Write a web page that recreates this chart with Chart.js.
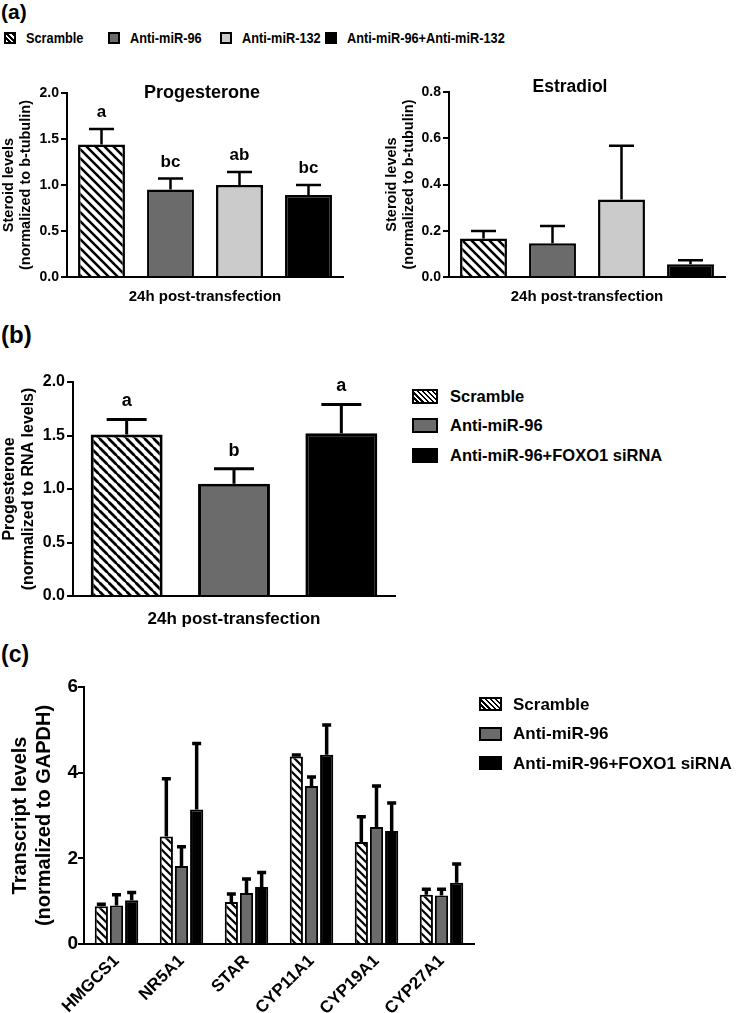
<!DOCTYPE html>
<html>
<head>
<meta charset="utf-8">
<script src="https://cdn.jsdelivr.net/npm/chart.js@4.4.0/dist/chart.umd.min.js"></script>
<style>
  html, body { margin: 0; padding: 0; background: #fff; }
  body { width: 742px; height: 1013px; position: relative; overflow: hidden;
         font-family: 'Liberation Sans', Arial, sans-serif; font-weight: bold; color: #000; }
  .box { position: absolute; }
  .panel-label { position: absolute; font-weight: bold; line-height: 1; }
  .legend { position: absolute; }
  .legend-item { position: absolute; display: flex; align-items: center; white-space: nowrap; line-height: 1; }
  .swatch { box-sizing: border-box; border: 2px solid #000; display: inline-block; flex: none; }
  .legend-text { display: inline-block; transform-origin: left center; }
</style>
</head>
<body>

<div class="panel-label" style="left:1px; top:1px; font-size:21px;">(a)</div>
<div id="legendA" class="legend" style="left:0; top:29px; width:742px; height:18px;"></div>
<div class="box" style="left:0; top:60px; width:360px; height:246px;"><canvas id="chartProgA"></canvas></div>
<div class="box" style="left:372px; top:60px; width:370px; height:246px;"><canvas id="chartEstA"></canvas></div>

<div class="panel-label" style="left:1px; top:323px; font-size:24px;">(b)</div>
<div class="box" style="left:0; top:330px; width:410px; height:300px;"><canvas id="chartProgB"></canvas></div>
<div id="legendB" class="legend" style="left:412px; top:386px; width:320px; height:90px;"></div>

<div class="panel-label" style="left:1px; top:643px; font-size:23px;">(c)</div>
<div class="box" style="left:0; top:640px; width:480px; height:373px;"><canvas id="chartGenes"></canvas></div>
<div id="legendC" class="legend" style="left:479px; top:694px; width:260px; height:90px;"></div>

<script>
// ---- (a) steroid levels, 24h post-transfection ----
const groupsA = ['Scramble', 'Anti-miR-96', 'Anti-miR-132', 'Anti-miR-96+Anti-miR-132'];
const progesteroneA = [1.44, 0.95, 1.00, 0.89];
const progesteroneAErr = [0.17, 0.12, 0.14, 0.11];
const progesteroneALetters = ['a', 'bc', 'ab', 'bc'];
const estradiolA = [0.166, 0.146, 0.335, 0.055];
const estradiolAErr = [0.033, 0.075, 0.233, 0.017];
const ticksProgA = [0, 0.5, 1.0, 1.5, 2.0];
const ticksEstA = [0, 0.2, 0.4, 0.6, 0.8];

// ---- (b) progesterone normalized to RNA ----
const groupsB = ['Scramble', 'Anti-miR-96', 'Anti-miR-96+FOXO1 siRNA'];
const progesteroneB = [1.51, 1.05, 1.52];
const progesteroneBErr = [0.14, 0.14, 0.27];
const progesteroneBLetters = ['a', 'b', 'a'];
const ticksProgB = [0, 0.5, 1.0, 1.5, 2.0];

// ---- (c) transcript levels ----
const genes = ['HMGCS1', 'NR5A1', 'STAR', 'CYP11A1', 'CYP19A1', 'CYP27A1'];
const scrambleC = [0.88, 2.51, 0.98, 4.38, 2.38, 1.15];
const scrambleCErr = [0.05, 1.35, 0.19, 0.03, 0.59, 0.13];
const antiMiR96C = [0.90, 1.82, 1.19, 3.69, 2.73, 1.13];
const antiMiR96CErr = [0.25, 0.45, 0.33, 0.21, 0.96, 0.15];
const foxo1C = [1.02, 3.14, 1.33, 4.42, 2.64, 1.43];
const foxo1CErr = [0.18, 1.54, 0.34, 0.69, 0.65, 0.44];
const ticksGenes = [0, 2, 4, 6];

const FONT = "'Liberation Sans', Arial, sans-serif";
Chart.defaults.font.family = FONT;
Chart.defaults.font.weight = 'bold';
Chart.defaults.color = '#000';

const GREY = '#6b6b6b';
const LIGHT = '#cbcbcb';
const BLACK = '#000000';
const HATCH_CSS = 'repeating-linear-gradient(45deg, #fff 0 2px, #000 2px 3.6px)';

// diagonal "\" hatching for the scramble bars
function hatch(size, lw) {
    const c = document.createElement('canvas');
    c.width = size; c.height = size;
    const g = c.getContext('2d');
    g.fillStyle = '#fff';
    g.fillRect(0, 0, size, size);
    g.strokeStyle = '#000';
    g.lineWidth = lw;
    g.beginPath();
    g.moveTo(0, 0); g.lineTo(size, size);
    g.moveTo(0, -size); g.lineTo(2 * size, size);
    g.moveTo(-size, 0); g.lineTo(size, 2 * size);
    g.stroke();
    return g.createPattern(c, 'repeat');
}

// error bars (upper only) + significance letters
const errorBars = {
    id: 'errorBars',
    afterDatasetsDraw(chart, args, opts) {
        const ctx = chart.ctx;
        const y = chart.scales.y;
        chart.data.datasets.forEach((ds, i) => {
            if (!ds.errors) return;
            const meta = chart.getDatasetMeta(i);
            meta.data.forEach((bar, j) => {
                const top = y.getPixelForValue(ds.data[j] + ds.errors[j]);
                ctx.save();
                ctx.strokeStyle = '#000';
                ctx.lineWidth = opts.lineWidth;
                ctx.beginPath();
                ctx.moveTo(bar.x, bar.y);
                ctx.lineTo(bar.x, top);
                ctx.moveTo(bar.x - opts.cap / 2, top);
                ctx.lineTo(bar.x + opts.cap / 2, top);
                ctx.stroke();
                if (ds.letters) {
                    ctx.fillStyle = '#000';
                    ctx.font = 'bold ' + opts.letterSize + 'px ' + FONT;
                    ctx.textAlign = 'center';
                    ctx.textBaseline = 'alphabetic';
                    ctx.fillText(ds.letters[j], bar.x, top - opts.letterGap);
                }
                ctx.restore();
            });
        });
    }
};

// small title drawn inside the plot, level with the top tick
const plotTitle = {
    id: 'plotTitle',
    afterDraw(chart, args, opts) {
        if (!opts.text) return;
        const a = chart.chartArea;
        const ctx = chart.ctx;
        ctx.save();
        ctx.fillStyle = '#000';
        ctx.font = 'bold ' + opts.size + 'px ' + FONT;
        ctx.textAlign = 'center';
        ctx.textBaseline = 'middle';
        ctx.fillText(opts.text, (a.left + a.right) / 2 + (opts.dx || 0), a.top + (opts.dy || 0));
        ctx.restore();
    }
};

function yAxis(o) {
    return {
        min: 0,
        max: o.ticks[o.ticks.length - 1],
        afterBuildTicks: s => { s.ticks = o.ticks.map(v => ({ value: v })); },
        afterFit: s => { s.width = o.width; },
        ticks: {
            color: '#000',
            font: { size: o.tickSize, weight: 'bold' },
            padding: o.tickPad,
            callback: v => Number(v).toFixed(o.decimals)
        },
        grid: { display: true, drawOnChartArea: false, drawTicks: true, tickLength: 6, color: '#000', lineWidth: 2 },
        border: { display: true, color: '#000', width: 2 },
        title: {
            display: true,
            text: o.title,
            color: '#000',
            font: { size: o.titleSize, weight: 'bold', lineHeight: o.titleLine },
            padding: { top: o.titlePad, bottom: 0 }
        }
    };
}

function xAxisPlain(height, titleSize) {
    return {
        z: 1,
        afterFit: s => { s.height = height; },
        ticks: { display: false },
        grid: { display: false, drawTicks: false },
        border: { display: true, color: '#000', width: 2 },
        title: {
            display: true,
            text: '24h post-transfection',
            color: '#000',
            font: { size: titleSize, weight: 'bold', lineHeight: 1.2 },
            padding: { top: 0, bottom: 0 }
        }
    };
}

const baseOpts = {
    responsive: true,
    maintainAspectRatio: false,
    animation: false,
    events: []
};

// ---- (a) Progesterone ----
const hatchA = hatch(9, 2.5);
new Chart(document.getElementById('chartProgA'), {
    type: 'bar',
    data: {
        labels: groupsA,
        datasets: [{
            data: progesteroneA,
            errors: progesteroneAErr,
            letters: progesteroneALetters,
            backgroundColor: [hatchA, GREY, LIGHT, BLACK],
            borderColor: '#000',
            borderWidth: 2.5,
            borderSkipped: 'start',
            categoryPercentage: 1,
            barPercentage: 0.68
        }]
    },
    options: Object.assign({}, baseOpts, {
        layout: { padding: { top: 33, right: 17, left: 0, bottom: 0 } },
        scales: {
            x: xAxisPlain(29, 15),
            y: yAxis({ ticks: ticksProgA, width: 67, tickSize: 14, tickPad: 2, decimals: 1,
                       title: ['Steroid levels', '(normalized to b-tubulin)'],
                       titleSize: 14.5, titleLine: 1.15, titlePad: 1 })
        },
        plugins: {
            legend: { display: false },
            tooltip: { enabled: false },
            errorBars: { lineWidth: 2.5, cap: 25, letterSize: 17, letterGap: 12 },
            plotTitle: { text: 'Progesterone', size: 18, dx: -3, dy: 0 }
        }
    }),
    plugins: [errorBars, plotTitle]
});

// ---- (a) Estradiol ----
new Chart(document.getElementById('chartEstA'), {
    type: 'bar',
    data: {
        labels: groupsA,
        datasets: [{
            data: estradiolA,
            errors: estradiolAErr,
            backgroundColor: [hatchA, GREY, LIGHT, BLACK],
            borderColor: '#000',
            borderWidth: 2.5,
            borderSkipped: 'start',
            categoryPercentage: 1,
            barPercentage: 0.68
        }]
    },
    options: Object.assign({}, baseOpts, {
        layout: { padding: { top: 32, right: 17, left: 0, bottom: 0 } },
        scales: {
            x: xAxisPlain(29, 15),
            y: yAxis({ ticks: ticksEstA, width: 77, tickSize: 14, tickPad: 2, decimals: 1,
                       title: ['Steroid levels', '(normalized to b-tubulin)'],
                       titleSize: 14.5, titleLine: 1.15, titlePad: 12 })
        },
        plugins: {
            legend: { display: false },
            tooltip: { enabled: false },
            errorBars: { lineWidth: 2.5, cap: 25 },
            plotTitle: { text: 'Estradiol', size: 17.5, dx: -17, dy: -5 }
        }
    }),
    plugins: [errorBars, plotTitle]
});

// ---- (b) Progesterone / RNA ----
const hatchB = hatch(9.5, 2.8);
new Chart(document.getElementById('chartProgB'), {
    type: 'bar',
    data: {
        labels: groupsB,
        datasets: [{
            data: progesteroneB,
            errors: progesteroneBErr,
            letters: progesteroneBLetters,
            backgroundColor: [hatchB, GREY, BLACK],
            borderColor: '#000',
            borderWidth: 3,
            borderSkipped: 'start',
            categoryPercentage: 1,
            barPercentage: 0.67
        }]
    },
    options: Object.assign({}, baseOpts, {
        layout: { padding: { top: 52, right: 15, left: 0, bottom: 0 } },
        scales: {
            x: xAxisPlain(34, 17),
            y: yAxis({ ticks: ticksProgB, width: 73, tickSize: 16, tickPad: 2, decimals: 1,
                       title: ['Progesterone', '(normalized to RNA levels)'],
                       titleSize: 16, titleLine: 1.2, titlePad: 0 })
        },
        plugins: {
            legend: { display: false },
            tooltip: { enabled: false },
            errorBars: { lineWidth: 3, cap: 40, letterSize: 18, letterGap: 13 }
        }
    }),
    plugins: [errorBars]
});

// ---- (c) transcript levels ----
const hatchC = hatch(8, 2.2);
const barStyle = { borderColor: '#000', borderWidth: 2, borderSkipped: 'start', categoryPercentage: 0.7, barPercentage: 0.87 };
new Chart(document.getElementById('chartGenes'), {
    type: 'bar',
    data: {
        labels: genes,
        datasets: [
            Object.assign({ label: groupsB[0], data: scrambleC, errors: scrambleCErr, backgroundColor: hatchC }, barStyle),
            Object.assign({ label: groupsB[1], data: antiMiR96C, errors: antiMiR96CErr, backgroundColor: GREY }, barStyle),
            Object.assign({ label: groupsB[2], data: foxo1C, errors: foxo1CErr, backgroundColor: BLACK }, barStyle)
        ]
    },
    options: Object.assign({}, baseOpts, {
        layout: { padding: { top: 47, right: 6, left: 0, bottom: 0 } },
        scales: {
            x: {
                z: 1,
                afterFit: s => { s.height = 69; },
                ticks: { color: '#000', font: { size: 17, weight: 'bold' }, minRotation: 45, maxRotation: 45, autoSkip: false, padding: 7 },
                grid: { display: false, drawTicks: false },
                border: { display: true, color: '#000', width: 2 }
            },
            y: yAxis({ ticks: ticksGenes, width: 84, tickSize: 19, tickPad: 0, decimals: 0,
                       title: ['Transcript levels', '(normalized to GAPDH)'],
                       titleSize: 20, titleLine: 1.2, titlePad: 8 })
        },
        plugins: {
            legend: { display: false },
            tooltip: { enabled: false },
            errorBars: { lineWidth: 3.5, cap: 9 }
        }
    }),
    plugins: [errorBars]
});

// ---- HTML legends ----
function buildLegend(id, labels, fills, o) {
    const holder = document.getElementById(id);
    labels.forEach((lab, i) => {
        const item = document.createElement('div');
        item.className = 'legend-item';
        item.style.left = (o.lefts ? o.lefts[i] : 0) + 'px';
        item.style.top = (o.rowStep ? i * o.rowStep : 0) + 'px';
        item.style.height = o.rowHeight + 'px';
        item.style.fontSize = o.fontSize + 'px';
        const sw = document.createElement('span');
        sw.className = 'swatch';
        sw.style.width = o.swW + 'px';
        sw.style.height = o.swH + 'px';
        sw.style.marginRight = o.gap + 'px';
        sw.style.background = fills[i];
        const txt = document.createElement('span');
        txt.className = 'legend-text';
        txt.textContent = lab;
        if (o.squeeze) txt.style.transform = 'scaleX(' + o.squeeze + ')';
        item.appendChild(sw);
        item.appendChild(txt);
        holder.appendChild(item);
    });
}

buildLegend('legendA', groupsA, [HATCH_CSS, GREY, LIGHT, BLACK],
    { lefts: [4, 108, 220, 325], rowHeight: 18, fontSize: 14.5, squeeze: 0.88, swW: 12, swH: 12, gap: 10 });
buildLegend('legendB', groupsB, [HATCH_CSS, GREY, BLACK],
    { rowStep: 29.5, rowHeight: 20, fontSize: 16.5, swW: 26, swH: 15, gap: 12 });
buildLegend('legendC', groupsB, [HATCH_CSS, GREY, BLACK],
    { rowStep: 29.5, rowHeight: 20, fontSize: 17, swW: 23, swH: 14, gap: 11 });
</script>
</body>
</html>
